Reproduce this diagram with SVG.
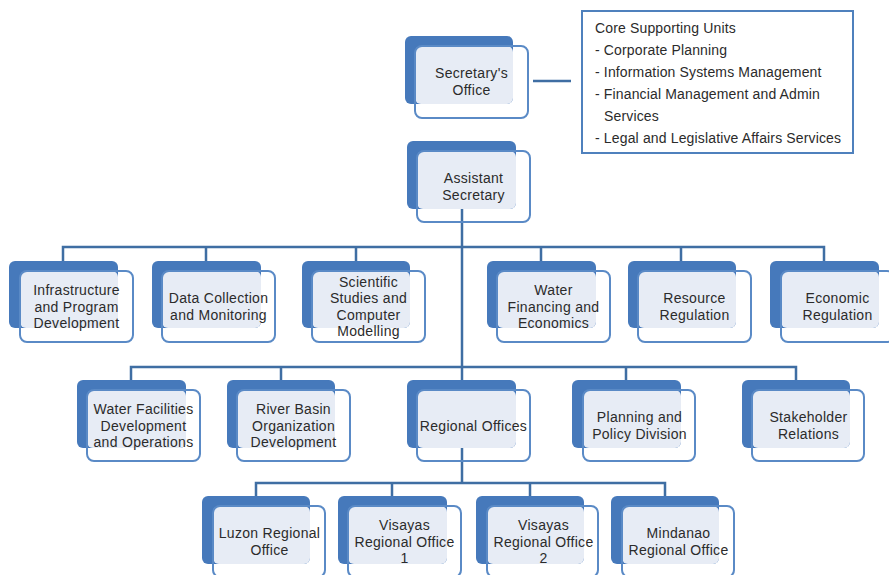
<svg xmlns="http://www.w3.org/2000/svg" width="889" height="575" viewBox="0 0 889 575">
<style>
.dark{fill:#4679BB}
.light{fill:#E7ECF5}
.frame{fill:none;stroke:#5A8AC6;stroke-width:2}
.t{font-family:"Liberation Sans",Arial,sans-serif;font-size:14px;letter-spacing:0.3px;fill:#2B2B2B;text-anchor:middle}
.core{font-family:"Liberation Sans",Arial,sans-serif;font-size:14px;letter-spacing:0.15px;fill:#2B2B2B}
.con{fill:none;stroke:#3F6EA3;stroke-width:2.5}
</style>
<rect width="889" height="575" fill="#FFFFFF"/>
<g id="connectors">
<path class="con" d="M533 81H571"/>
<path class="con" d="M462 205V380"/>
<path class="con" d="M63 261V247H824V261M206 247V261M356 247V261M541 247V261M681 247V261"/>
<path class="con" d="M131 380V367H796V380M281 367V380M626 367V380"/>
<path class="con" d="M462 440V483M256 496V483H665V496M392 483V496M530 483V496"/>
</g>
<g id="core-supporting-units">
<rect x="582" y="11" width="271" height="142" fill="#FFFFFF" stroke="#4F81BD" stroke-width="2"/>
<text class="core" x="595" y="33">Core Supporting Units</text>
<text class="core" x="595" y="55">- Corporate Planning</text>
<text class="core" x="595" y="77">- Information Systems Management</text>
<text class="core" x="595" y="99">- Financial Management and Admin</text>
<text class="core" x="604" y="121">Services</text>
<text class="core" x="595" y="143">- Legal and Legislative Affairs Services</text>
</g>
<g id="secretary">
<rect class="dark" x="405" y="36" width="108" height="68" rx="6"/>
<rect class="light" x="415" y="46" width="98" height="58" rx="6"/>
<rect class="frame" x="415" y="46" width="113" height="72" rx="7"/>
<text class="t"><tspan x="471.5" y="78.35">Secretary's</tspan><tspan x="471.5" y="94.65">Office</tspan></text>
</g>
<g id="assistant-secretary">
<rect class="dark" x="407" y="141" width="109" height="68" rx="6"/>
<rect class="light" x="417" y="151" width="99" height="58" rx="6"/>
<rect class="frame" x="417" y="151" width="113" height="71" rx="7"/>
<text class="t"><tspan x="473.5" y="183.35">Assistant</tspan><tspan x="473.5" y="199.65">Secretary</tspan></text>
</g>
<g id="infrastructure">
<rect class="dark" x="9" y="261" width="109" height="67" rx="6"/>
<rect class="light" x="20" y="271" width="98" height="57" rx="6"/>
<rect class="frame" x="20" y="271" width="113" height="71" rx="7"/>
<text class="t"><tspan x="76.5" y="295.2">Infrastructure</tspan><tspan x="76.5" y="311.5">and Program</tspan><tspan x="76.5" y="327.8">Development</tspan></text>
</g>
<g id="data-collection">
<rect class="dark" x="152" y="261" width="109" height="67" rx="6"/>
<rect class="light" x="162" y="271" width="99" height="57" rx="6"/>
<rect class="frame" x="162" y="271" width="113" height="71" rx="7"/>
<text class="t"><tspan x="218.5" y="303.35">Data Collection</tspan><tspan x="218.5" y="319.65">and Monitoring</tspan></text>
</g>
<g id="scientific-studies">
<rect class="dark" x="302" y="261" width="108" height="67" rx="6"/>
<rect class="light" x="312" y="271" width="98" height="57" rx="6"/>
<rect class="frame" x="312" y="271" width="113" height="71" rx="7"/>
<text class="t"><tspan x="368.5" y="287.05">Scientific</tspan><tspan x="368.5" y="303.35">Studies and</tspan><tspan x="368.5" y="319.65">Computer</tspan><tspan x="368.5" y="335.95">Modelling</tspan></text>
</g>
<g id="water-financing">
<rect class="dark" x="487" y="261" width="109" height="67" rx="6"/>
<rect class="light" x="497" y="271" width="99" height="57" rx="6"/>
<rect class="frame" x="497" y="271" width="113" height="71" rx="7"/>
<text class="t"><tspan x="553.5" y="295.2">Water</tspan><tspan x="553.5" y="311.5">Financing and</tspan><tspan x="553.5" y="327.8">Economics</tspan></text>
</g>
<g id="resource-regulation">
<rect class="dark" x="628" y="261" width="108" height="67" rx="6"/>
<rect class="light" x="638" y="271" width="98" height="57" rx="6"/>
<rect class="frame" x="638" y="271" width="113" height="71" rx="7"/>
<text class="t"><tspan x="694.5" y="303.35">Resource</tspan><tspan x="694.5" y="319.65">Regulation</tspan></text>
</g>
<g id="economic-regulation">
<rect class="dark" x="770" y="261" width="109" height="67" rx="6"/>
<rect class="light" x="781" y="271" width="98" height="57" rx="6"/>
<rect class="frame" x="781" y="271" width="113" height="71" rx="7"/>
<text class="t"><tspan x="837.5" y="303.35">Economic</tspan><tspan x="837.5" y="319.65">Regulation</tspan></text>
</g>
<g id="water-facilities">
<rect class="dark" x="77" y="380" width="109" height="68" rx="6"/>
<rect class="light" x="87" y="390" width="99" height="58" rx="6"/>
<rect class="frame" x="87" y="390" width="113" height="71" rx="7"/>
<text class="t"><tspan x="143.5" y="414.2">Water Facilities</tspan><tspan x="143.5" y="430.5">Development</tspan><tspan x="143.5" y="446.8">and Operations</tspan></text>
</g>
<g id="river-basin">
<rect class="dark" x="227" y="380" width="108" height="68" rx="6"/>
<rect class="light" x="237" y="390" width="98" height="58" rx="6"/>
<rect class="frame" x="237" y="390" width="113" height="71" rx="7"/>
<text class="t"><tspan x="293.5" y="414.2">River Basin</tspan><tspan x="293.5" y="430.5">Organization</tspan><tspan x="293.5" y="446.8">Development</tspan></text>
</g>
<g id="regional-offices">
<rect class="dark" x="407" y="380" width="109" height="68" rx="6"/>
<rect class="light" x="417" y="390" width="99" height="58" rx="6"/>
<rect class="frame" x="417" y="390" width="113" height="71" rx="7"/>
<text class="t"><tspan x="473.5" y="430.5">Regional Offices</tspan></text>
</g>
<g id="planning-policy">
<rect class="dark" x="572" y="380" width="109" height="68" rx="6"/>
<rect class="light" x="583" y="390" width="98" height="58" rx="6"/>
<rect class="frame" x="583" y="390" width="112" height="71" rx="7"/>
<text class="t"><tspan x="639.5" y="422.35">Planning and</tspan><tspan x="639.5" y="438.65">Policy Division</tspan></text>
</g>
<g id="stakeholder-relations">
<rect class="dark" x="742" y="380" width="108" height="68" rx="6"/>
<rect class="light" x="752" y="390" width="98" height="58" rx="6"/>
<rect class="frame" x="752" y="390" width="112" height="71" rx="7"/>
<text class="t"><tspan x="808.5" y="422.35">Stakeholder</tspan><tspan x="808.5" y="438.65">Relations</tspan></text>
</g>
<g id="luzon">
<rect class="dark" x="202" y="496" width="108" height="68" rx="6"/>
<rect class="light" x="213" y="506" width="97" height="58" rx="6"/>
<rect class="frame" x="213" y="506" width="112" height="71" rx="7"/>
<text class="t"><tspan x="269.5" y="538.35">Luzon Regional</tspan><tspan x="269.5" y="554.65">Office</tspan></text>
</g>
<g id="visayas-1">
<rect class="dark" x="338" y="496" width="109" height="68" rx="6"/>
<rect class="light" x="348" y="506" width="99" height="58" rx="6"/>
<rect class="frame" x="348" y="506" width="113" height="71" rx="7"/>
<text class="t"><tspan x="404.5" y="530.2">Visayas</tspan><tspan x="404.5" y="546.5">Regional Office</tspan><tspan x="404.5" y="562.8">1</tspan></text>
</g>
<g id="visayas-2">
<rect class="dark" x="476" y="496" width="108" height="68" rx="6"/>
<rect class="light" x="487" y="506" width="97" height="58" rx="6"/>
<rect class="frame" x="487" y="506" width="111" height="71" rx="7"/>
<text class="t"><tspan x="543.5" y="530.2">Visayas</tspan><tspan x="543.5" y="546.5">Regional Office</tspan><tspan x="543.5" y="562.8">2</tspan></text>
</g>
<g id="mindanao">
<rect class="dark" x="611" y="496" width="108" height="68" rx="6"/>
<rect class="light" x="622" y="506" width="97" height="58" rx="6"/>
<rect class="frame" x="622" y="506" width="112" height="71" rx="7"/>
<text class="t"><tspan x="678.5" y="538.35">Mindanao</tspan><tspan x="678.5" y="554.65">Regional Office</tspan></text>
</g>
</svg>
